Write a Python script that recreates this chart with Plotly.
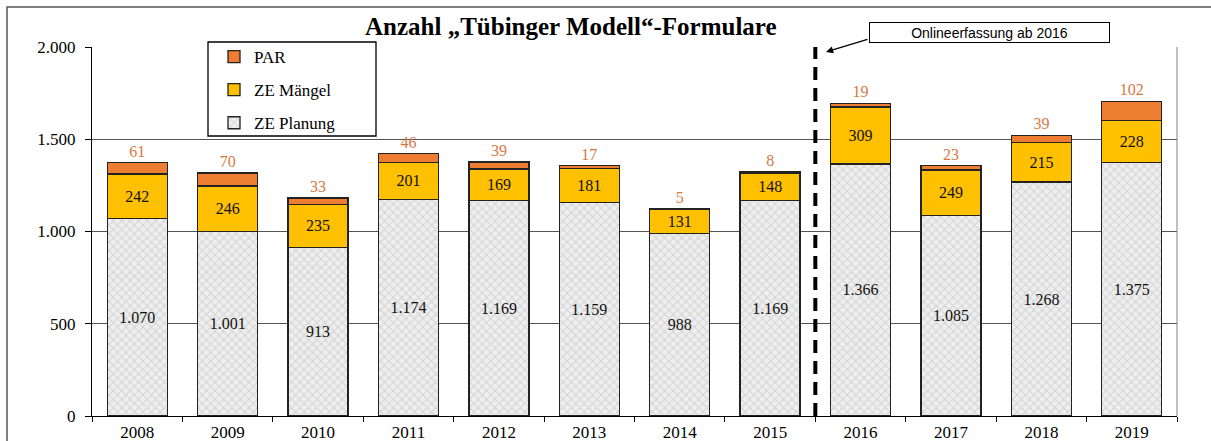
import plotly.graph_objects as go

years = ["2008", "2009", "2010", "2011", "2012", "2013", "2014", "2015", "2016", "2017", "2018", "2019"]
ze_planung = [1070, 1001, 913, 1174, 1169, 1159, 988, 1169, 1366, 1085, 1268, 1375]
ze_maengel = [242, 246, 235, 201, 169, 181, 131, 148, 309, 249, 215, 228]
par = [61, 70, 33, 46, 39, 17, 5, 8, 19, 23, 39, 102]
y_ticks = [0, 500, 1000, 1500, 2000]


def de(v):
    return f"{v:,}".replace(",", ".")


SERIF = "Liberation Serif, Times New Roman, serif"
L, R, T, B = 92, 34, 47, 25
W, H = 1211, 441
PW, PH = W - L - R, H - T - B


def px(x):
    return (x - L) / PW


def py(y):
    return (H - B - y) / PH


fig = go.Figure()
line = dict(color="#222222", width=1.3)
fig.add_trace(go.Bar(
    x=years, y=ze_planung, name="ZE Planung",
    marker=dict(color="#ececec", line=line,
                pattern=dict(shape="x", fgcolor="#b8b8b8", bgcolor="#eeeeee", size=6, solidity=0.3)),
    text=[de(v) for v in ze_planung], textposition="inside", insidetextanchor="middle",
    textfont=dict(family=SERIF, size=16, color="#111111"), textangle=0, constraintext="none",
    legendgroup="c", legendrank=3, hoverinfo="skip",
))
fig.add_trace(go.Bar(
    x=years, y=ze_maengel, name="ZE Mängel",
    marker=dict(color="#FFC000", line=line),
    text=[de(v) for v in ze_maengel], textposition="inside", insidetextanchor="middle",
    textfont=dict(family=SERIF, size=16, color="#111111"), textangle=0, constraintext="none",
    legendgroup="b", legendrank=2, hoverinfo="skip",
))
fig.add_trace(go.Bar(
    x=years, y=par, name="PAR",
    marker=dict(color="#ED7D31", line=line),
    text=[de(v) for v in par], textposition="outside",
    textfont=dict(family=SERIF, size=16, color="#D9773F"), textangle=0, constraintext="none",
    cliponaxis=False, legendgroup="a", legendrank=1, hoverinfo="skip",
))

shapes = [
    # outer frame
    dict(type="rect", xref="paper", yref="paper", x0=px(7), x1=px(1216), y0=py(7), y1=py(446),
         line=dict(color="#555555", width=1.5), fillcolor="rgba(0,0,0,0)", layer="below"),
    # right plot border
    dict(type="line", xref="paper", yref="paper", x0=1, x1=1, y0=0, y1=1,
         line=dict(color="#808080", width=1)),
    # dashed separator
    dict(type="line", xref="x", yref="y", x0=7.5, x1=7.5, y0=0, y1=2016,
         line=dict(color="black", width=4, dash="13px,8px"), layer="above"),
    # legend box
    dict(type="rect", xref="paper", yref="paper", x0=px(208), x1=px(376), y0=py(42), y1=py(136),
         line=dict(color="black", width=1.3), fillcolor="white", layer="above"),
]

annotations = [
    dict(text="<b>Anzahl „Tübinger Modell“-Formulare</b>", xref="paper", yref="paper",
         x=px(571), y=py(27), xanchor="center", yanchor="middle", showarrow=False,
         font=dict(family=SERIF, size=25, color="black")),
    dict(text="Onlineerfassung ab 2016", xref="paper", yref="paper",
         x=px(989.5), y=py(32.5), xanchor="center", yanchor="middle", showarrow=False,
         width=237, height=17, bgcolor="white", bordercolor="black", borderwidth=1,
         font=dict(family="Liberation Sans, Arial, sans-serif", size=14, color="black")),
    dict(text="", xref="paper", yref="paper", x=px(826), y=py(52), showarrow=True,
         ax=43, ay=-13, arrowhead=2, arrowsize=1.1, arrowwidth=1.3, arrowcolor="black"),
]

fig.update_layout(
    width=W, height=H, barmode="stack", bargap=0.336,
    margin=dict(l=L, r=R, t=T, b=B, autoexpand=False),
    separators=",.",
    paper_bgcolor="white", plot_bgcolor="white",
    font=dict(family=SERIF, size=16, color="black"),
    showlegend=True,
    legend=dict(x=px(214), y=py(39), xanchor="left", yanchor="top",
                bgcolor="rgba(0,0,0,0)", borderwidth=0,
                traceorder="grouped", tracegroupgap=8,
                font=dict(family=SERIF, size=17, color="black"),
                itemwidth=30),
    xaxis=dict(type="category", ticks="outside", tickson="boundaries", ticklen=5,
               tickcolor="black", showline=True, linecolor="black", linewidth=1.2,
               showgrid=False, tickfont=dict(family=SERIF, size=17)),
    yaxis=dict(range=[0, 2000], tickvals=y_ticks, tickformat=",d", ticks="outside", ticklen=6,
               tickcolor="black", showline=True, linecolor="black", linewidth=1.2,
               showgrid=True, gridcolor="#555555", gridwidth=1, zeroline=False,
               ticklabelstandoff=6, tickfont=dict(family=SERIF, size=17)),
    shapes=shapes, annotations=annotations,
)

fig.write_html("out.html", config={"displayModeBar": False},
               post_script="document.body.style.margin='0px';")
